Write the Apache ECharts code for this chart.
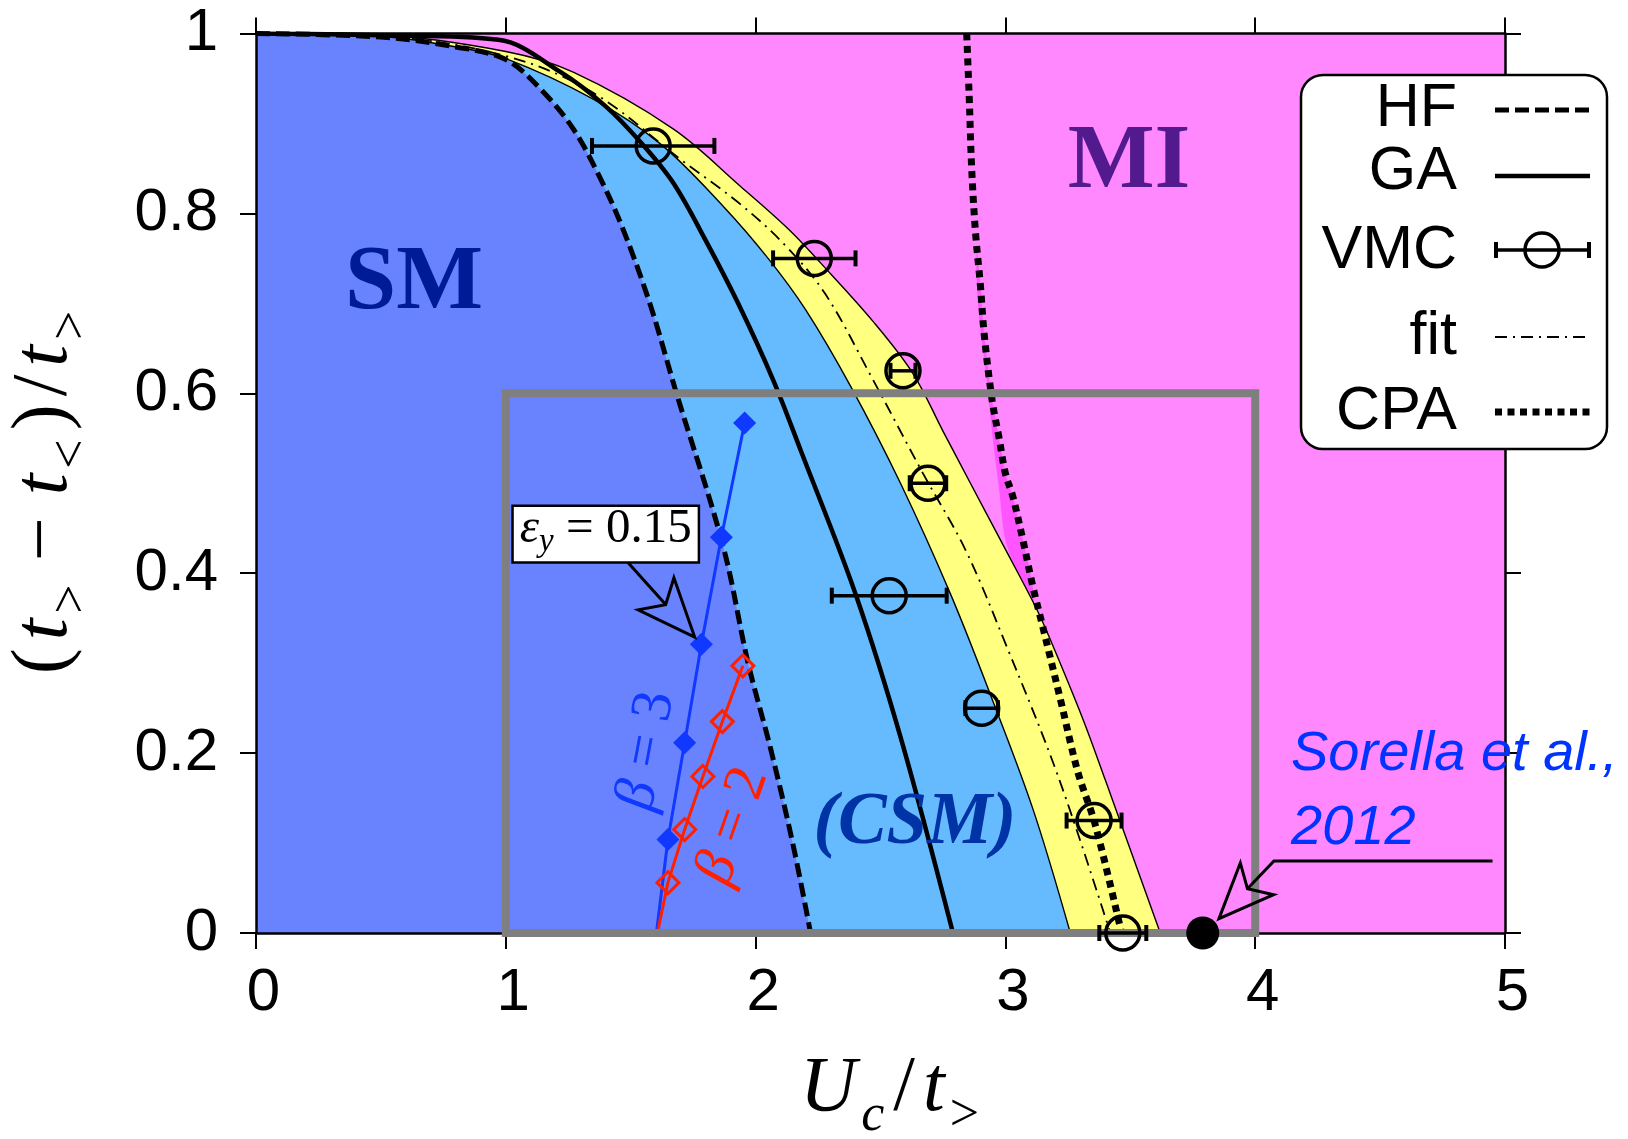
<!DOCTYPE html>
<html>
<head>
<meta charset="utf-8">
<script src="https://cdn.jsdelivr.net/npm/echarts@6/dist/echarts.min.js"></script>
<style>
  html, body { margin: 0; padding: 0; background: #fff; }
  #chart { width: 1628px; height: 1139px; }
</style>
</head>
<body>
<div id="chart"></div>
<script>
// ---- Phase boundaries: points are [U_c/t_>, (t_> - t_<)/t_>] ----
const hfBoundary = [[0, 1], [0.5, 0.996], [0.8, 0.985], [1.0, 0.971], [1.14, 0.938], [1.27, 0.894],
  [1.38, 0.838], [1.47, 0.782], [1.58, 0.697], [1.68, 0.603], [1.87, 0.43], [1.97, 0.30],
  [2.06, 0.205], [2.15, 0.098], [2.22, 0]];
const gaBoundary = [[0, 1], [0.5, 0.998], [0.97, 0.993], [1.22, 0.957], [1.40, 0.919], [1.54, 0.879],
  [1.67, 0.834], [1.80, 0.77], [1.93, 0.70], [2.07, 0.615], [2.18, 0.537], [2.40, 0.377],
  [2.58, 0.218], [2.79, 0]];
const bandUpper = [[0, 1], [0.5, 0.998], [1.0, 0.98], [1.27, 0.957], [1.67, 0.894], [1.94, 0.83],
  [2.13, 0.783], [2.26, 0.745], [2.47, 0.68], [2.63, 0.622], [2.75, 0.558], [2.86, 0.50],
  [2.98, 0.437], [3.12, 0.363], [3.18, 0.326], [3.31, 0.238], [3.40, 0.17], [3.62, 0]];
const bandLower = [[0, 1], [0.5, 0.997], [0.8, 0.985], [1.0, 0.972], [1.35, 0.927], [1.62, 0.877],
  [1.87, 0.808], [2.05, 0.75], [2.2, 0.693], [2.38, 0.608], [2.58, 0.5], [2.78, 0.377],
  [2.94, 0.265], [3.11, 0.138], [3.26, 0]];
const fitCurve = [[0, 1], [0.5, 0.997], [1.0, 0.975], [1.35, 0.934], [1.70, 0.86], [1.94, 0.81],
  [2.12, 0.764], [2.28, 0.71], [2.47, 0.615], [2.67, 0.511], [2.84, 0.426], [3.0, 0.322],
  [3.21, 0.175], [3.42, 0]];
const cpaBoundary = [[2.845, 1.0], [2.855, 0.93], [2.865, 0.85], [2.88, 0.78], [2.90, 0.72],
  [2.915, 0.666], [2.947, 0.592], [2.975, 0.55], [3.0, 0.511], [3.03, 0.485], [3.07, 0.437],
  [3.11, 0.385], [3.15, 0.34], [3.22, 0.26], [3.29, 0.179], [3.36, 0.12], [3.465, 0]];
// left edge of the shaded sliver that hugs the CPA line
const cpaShadeEdge = [[2.885, 0.76], [2.89, 0.70], [2.925, 0.615], [2.95, 0.548], [2.976, 0.49],
  [3.0, 0.437], [3.06, 0.39], [3.11, 0.36]];

// ---- VMC estimates with horizontal error bars ----
const vmcU     = [1.59, 2.235, 2.59, 2.69, 2.535, 2.905, 3.355, 3.47];
const vmcRatio = [0.875, 0.75, 0.625, 0.5, 0.375, 0.25, 0.125, 0];
const vmcErr   = [0.245, 0.165, 0.05, 0.073, 0.23, 0.065, 0.11, 0.094];

// ---- finite-temperature transition lines ----
const beta3U     = [1.603, 1.649, 1.716, 1.783, 1.863, 1.956];
const beta3Ratio = [0, 0.104, 0.2115, 0.321, 0.44, 0.567];
const beta2U     = [1.607, 1.649, 1.716, 1.789, 1.867, 1.949];
const beta2Ratio = [0, 0.056, 0.115, 0.174, 0.235, 0.297];

// ---- QMC reference point ----
const sorellaU = [3.79];
const sorellaRatio = [0];

// ---- inset window [U min, ratio min, U max, ratio max] ----
const insetWindow = [1, 0, 4, 0.6];

// ---- axis ticks ----
const uTicks = [0, 1, 2, 3, 4, 5];
const ratioTicks = [0, 0.2, 0.4, 0.6, 0.8, 1];

const SANS = '"Liberation Sans", Arial, Helvetica, sans-serif';
const SERIF = '"Liberation Serif", "Times New Roman", serif';

const chart = echarts.init(document.getElementById('chart'), null, { renderer: 'canvas', width: 1628, height: 1139 });

function axis(position, withLabels, ticks) {
  return {
    type: 'value',
    position: position,
    min: ticks[0],
    max: ticks[ticks.length - 1],
    interval: ticks[1] - ticks[0],
    z: 5,
    axisLine: { show: true, onZero: false, lineStyle: { color: '#000', width: 2.5 } },
    axisTick: { show: true, inside: false, length: 16, lineStyle: { color: '#000', width: 2 } },
    axisLabel: withLabels
      ? (position === 'bottom'
          ? { show: true, color: '#000', fontSize: 60, fontFamily: SANS, margin: 30, padding: [0, 0, 0, 15] }
          : { show: true, color: '#000', fontSize: 60, fontFamily: SANS, margin: 38 })
      : { show: false },
    splitLine: { show: false }
  };
}

function curve(name, data, lineStyle, area, z) {
  const s = {
    type: 'line', name: name, data: data, showSymbol: false, symbol: 'none',
    smooth: 0.35, silent: true, z: z,
    lineStyle: lineStyle
  };
  if (area) s.areaStyle = { color: area, opacity: 1, origin: 'start' };
  return s;
}

const option = {
  animation: false,
  backgroundColor: '#fff',
  grid: { left: 256, right: 123, top: 33.5, bottom: 206, show: true,
          backgroundColor: '#ff88ff', borderWidth: 0, outerBoundsMode: 'none' },
  xAxis: [axis('bottom', true, uTicks), axis('top', false, uTicks)],
  yAxis: [axis('left', true, ratioTicks), axis('right', false, ratioTicks)],
  series: [
    {
      type: 'custom', name: 'CPA shade', silent: true, z: 2,
      data: [[3, 0.5]],
      renderItem: function (params, api) {
        const yTop = cpaShadeEdge[0][1], yBot = cpaShadeEdge[cpaShadeEdge.length - 1][1];
        const right = cpaBoundary.filter(p => p[1] <= yTop && p[1] >= yBot).reverse();
        const pts = cpaShadeEdge.concat(right).map(p => api.coord(p));
        return { type: 'polygon', shape: { points: pts, smooth: 0.3 },
                 style: { fill: '#ff55ff', stroke: 'none' } };
      }
    },
    curve('band upper', bandUpper, { color: '#000', width: 1.4 }, '#ffff80', 2),
    curve('band lower', bandLower, { color: '#000', width: 1.4 }, '#66bbff', 2),
    curve('HF', hfBoundary, { color: '#000', width: 5, type: [14, 6] }, '#6983ff', 2),
    curve('GA', gaBoundary, { color: '#000', width: 4.5 }, null, 3),
    curve('fit', fitCurve, { color: '#000', width: 1.8, type: [12, 6, 2, 6] }, null, 3),
    curve('CPA', cpaBoundary, { color: '#000', width: 7, type: [7, 5.5], cap: 'butt' }, null, 3),
    {
      type: 'line', name: 'beta = 3', silent: true, z: 4,
      data: beta3U.map((u, i) => ({ value: [u, beta3Ratio[i]], symbol: beta3Ratio[i] === 0 ? 'none' : 'diamond' })),
      symbolSize: 23, showAllSymbol: true,
      lineStyle: { color: '#1038ff', width: 3 },
      itemStyle: { color: '#1038ff', opacity: 1 }
    },
    {
      type: 'line', name: 'beta = 2', silent: true, z: 4,
      data: beta2U.map((u, i) => ({ value: [u, beta2Ratio[i]], symbol: beta2Ratio[i] === 0 ? 'none' : 'diamond' })),
      symbolSize: 22, showAllSymbol: true,
      lineStyle: { color: '#ff2000', width: 3 },
      itemStyle: { color: 'rgba(0,0,0,0)', borderColor: '#ff2000', borderWidth: 3, opacity: 1 }
    },
    {
      type: 'custom', name: 'inset window', silent: true, z: 6,
      data: [insetWindow],
      renderItem: function (params, api) {
        const a = api.coord([api.value(0), api.value(3)]);
        const b = api.coord([api.value(2), api.value(1)]);
        return { type: 'rect', shape: { x: a[0], y: a[1], width: b[0] - a[0], height: b[1] - a[1] },
                 style: { fill: 'none', stroke: '#7f7f7f', lineWidth: 8 } };
      }
    },
    {
      type: 'custom', name: 'VMC', silent: true, z: 7,
      data: vmcU.map((u, i) => [u, vmcRatio[i], vmcErr[i]]),
      encode: { x: 0, y: 1 },
      renderItem: function (params, api) {
        const u = api.value(0), r = api.value(1), e = api.value(2);
        const c = api.coord([u, r]), l = api.coord([u - e, r]), rt = api.coord([u + e, r]);
        const cap = 8;
        const st = { stroke: '#000', lineWidth: 3.5, fill: 'none' };
        return { type: 'group', children: [
          { type: 'line', shape: { x1: l[0], y1: c[1], x2: rt[0], y2: c[1] }, style: st },
          { type: 'line', shape: { x1: l[0], y1: c[1] - cap, x2: l[0], y2: c[1] + cap }, style: { stroke: '#000', lineWidth: 4 } },
          { type: 'line', shape: { x1: rt[0], y1: c[1] - cap, x2: rt[0], y2: c[1] + cap }, style: { stroke: '#000', lineWidth: 4 } },
          { type: 'circle', shape: { cx: c[0], cy: c[1], r: 17 }, style: st }
        ] };
      }
    },
    {
      type: 'scatter', name: 'Sorella et al., 2012', silent: true, z: 7, clip: false,
      data: sorellaU.map((u, i) => [u, sorellaRatio[i]]),
      symbol: 'circle', symbolSize: 33, itemStyle: { color: '#000', opacity: 1 }
    }
  ]
};

chart.setOption(option);

// ---- annotations, labels and key ----
const toPx = p => chart.convertToPixel({ xAxisIndex: 0, yAxisIndex: 0 }, p);

function arrow(pointsData, headLen, headHalf) {
  const pts = pointsData.map(toPx);
  const T = pts[pts.length - 1], P = pts[pts.length - 2];
  let ux = T[0] - P[0], uy = T[1] - P[1];
  const len = Math.hypot(ux, uy); ux /= len; uy /= len;
  const nx = -uy, ny = ux;
  const Bx = T[0] - ux * headLen, By = T[1] - uy * headLen;
  const notch = 0.25 * headLen;
  const N = [Bx + ux * notch, By + uy * notch];
  const L = [Bx + nx * headHalf, By + ny * headHalf];
  const R = [Bx - nx * headHalf, By - ny * headHalf];
  return [
    { type: 'polyline', z: 100, shape: { points: pts.slice(0, -1).concat([N]) },
      style: { stroke: '#000', lineWidth: 3, fill: 'none' } },
    { type: 'polygon', z: 100, shape: { points: [T, L, N, R] },
      style: { stroke: '#000', lineWidth: 3, fill: 'none', lineJoin: 'miter' } }
  ];
}

const boxA = toPx([1.027, 0.475]), boxB = toPx([1.773, 0.412]);

const mathTok = (size, italic, extra) => Object.assign({
  fontSize: size, fontFamily: SERIF, fontStyle: italic ? 'italic' : 'normal', fill: '#000'
}, extra || {});

const titleRich = {
  i: mathTok(78, true, { lineHeight: 92, verticalAlign: 'top', padding: [0, 4, 0, 4] }),
  n: mathTok(78, false, { lineHeight: 92, verticalAlign: 'top', padding: [0, 4, 0, 4] }),
  op: mathTok(78, false, { lineHeight: 92, verticalAlign: 'top', padding: [0, 18, 0, 18] }),
  s: mathTok(52, false, { lineHeight: 52, verticalAlign: 'bottom', padding: [0, 5, 0, 1] }),
  si: mathTok(52, true, { lineHeight: 52, verticalAlign: 'bottom', padding: [0, 5, 0, 1] })
};

const keyX = 1457;
const key = [
  { label: 'HF',  y: 109, sample: 'dash' },
  { label: 'GA',  y: 172, sample: 'solid' },
  { label: 'VMC', y: 251, sample: 'vmc' },
  { label: 'fit', y: 337, sample: 'dashdot' },
  { label: 'CPA', y: 412, sample: 'dot' }
];
const sampleY = [110, 176, 250, 337, 412];
const keyGraphics = [
  { type: 'rect', z: 100, shape: { x: 1301, y: 75, width: 306, height: 374, r: 22 },
    style: { fill: '#fff', stroke: '#000', lineWidth: 2.5 } }
];
key.forEach((k, i) => {
  keyGraphics.push({ type: 'text', z: 101, x: keyX, y: k.y,
    style: { text: k.label, font: '61px ' + SANS, fill: '#000', align: 'right', verticalAlign: 'middle' } });
  const y = sampleY[i], x1 = 1495, x2 = 1590;
  const t = k.sample;
  if (t === 'dash') keyGraphics.push({ type: 'line', z: 101, shape: { x1, y1: y, x2, y2: y }, style: { stroke: '#000', lineWidth: 5, lineDash: [14, 6] } });
  if (t === 'solid') keyGraphics.push({ type: 'line', z: 101, shape: { x1, y1: y, x2, y2: y }, style: { stroke: '#000', lineWidth: 4.5 } });
  if (t === 'dashdot') keyGraphics.push({ type: 'line', z: 101, shape: { x1, y1: y, x2, y2: y }, style: { stroke: '#000', lineWidth: 1.8, lineDash: [12, 6, 2, 6] } });
  if (t === 'dot') keyGraphics.push({ type: 'line', z: 101, shape: { x1, y1: y, x2, y2: y }, style: { stroke: '#000', lineWidth: 7, lineDash: [7, 5.5] } });
  if (t === 'vmc') {
    keyGraphics.push({ type: 'line', z: 101, shape: { x1, y1: y, x2, y2: y }, style: { stroke: '#000', lineWidth: 3.5 } });
    keyGraphics.push({ type: 'line', z: 101, shape: { x1: x1 + 1, y1: y - 8, x2: x1 + 1, y2: y + 8 }, style: { stroke: '#000', lineWidth: 4 } });
    keyGraphics.push({ type: 'line', z: 101, shape: { x1: x2 - 1, y1: y - 8, x2: x2 - 1, y2: y + 8 }, style: { stroke: '#000', lineWidth: 4 } });
    keyGraphics.push({ type: 'circle', z: 101, shape: { cx: 1542, cy: y, r: 17 }, style: { stroke: '#000', lineWidth: 3.5, fill: 'none' } });
  }
});

chart.setOption({
  graphic: [
    // region names
    { type: 'text', z: 100, x: 414, y: 284,
      style: { text: 'SM', font: 'bold 92px ' + SERIF, fill: '#001b96', align: 'center', verticalAlign: 'middle' } },
    { type: 'text', z: 100, x: 1129, y: 163,
      style: { text: 'MI', font: 'bold 92px ' + SERIF, fill: '#521a8c', align: 'center', verticalAlign: 'middle' } },
    { type: 'text', z: 100, x: 915, y: 824,
      style: { text: '(CSM)', font: 'italic bold 73px ' + SERIF, fill: '#0033a6', align: 'center', verticalAlign: 'middle' } },
    // inverse-temperature labels along their lines
    { type: 'text', z: 100, x: 647, y: 751, rotation: 79.5 * Math.PI / 180,
      style: { text: '{g|β} = 3', font: '58px ' + SERIF, fill: '#1038ff', align: 'center', verticalAlign: 'middle',
               rich: { g: { fontSize: 58, fontFamily: SERIF, fontStyle: 'italic', fill: '#1038ff' } } } },
    { type: 'text', z: 100, x: 733, y: 826, rotation: 70.8 * Math.PI / 180,
      style: { text: '{g|β} = 2', font: '58px ' + SERIF, fill: '#ff2000', align: 'center', verticalAlign: 'middle',
               rich: { g: { fontSize: 58, fontFamily: SERIF, fontStyle: 'italic', fill: '#ff2000' } } } },
    // ε_y box with arrow to the β = 3 line
    { type: 'rect', z: 100, shape: { x: boxA[0], y: boxA[1], width: boxB[0] - boxA[0], height: boxB[1] - boxA[1] },
      style: { fill: '#fff', stroke: '#000', lineWidth: 2.5 } },
    { type: 'text', z: 101, x: (boxA[0] + boxB[0]) / 2, y: (boxA[1] + boxB[1]) / 2 - 2,
      style: { text: '{e|ε}{s|y}{n| = 0.15}', align: 'center', verticalAlign: 'middle',
               rich: {
                 e: mathTok(49, true, { lineHeight: 54, verticalAlign: 'top' }),
                 s: mathTok(33, true, { lineHeight: 33, verticalAlign: 'bottom' }),
                 n: mathTok(49, false, { lineHeight: 54, verticalAlign: 'top' })
               } } },
    ...arrow([[1.489, 0.412], [1.756, 0.329]], 58, 24),
    // reference annotation
    { type: 'text', z: 100, x: 1291, y: 717,
      style: { text: 'Sorella et al.,\n2012', font: 'italic 56px ' + SANS, fill: '#0033ff',
               align: 'left', verticalAlign: 'top', lineHeight: 74 } },
    ...arrow([[4.95, 0.08], [4.075, 0.08], [3.855, 0.016]], 55, 23),
    // axis titles
    { type: 'text', z: 100, x: 890, y: 1096,
      style: { text: '{i|U}{si|c}{n|/}{i|t}{s|>}', align: 'center', verticalAlign: 'middle', rich: titleRich } },
    { type: 'text', z: 100, x: 52, y: 492, rotation: Math.PI / 2,
      style: { text: '{n|(}{i|t}{s|>}{op|−}{i|t}{s|<}{n|)}{n|/}{i|t}{s|>}', align: 'center', verticalAlign: 'middle', rich: titleRich } },
    ...keyGraphics
  ]
});
</script>
</body>
</html>
